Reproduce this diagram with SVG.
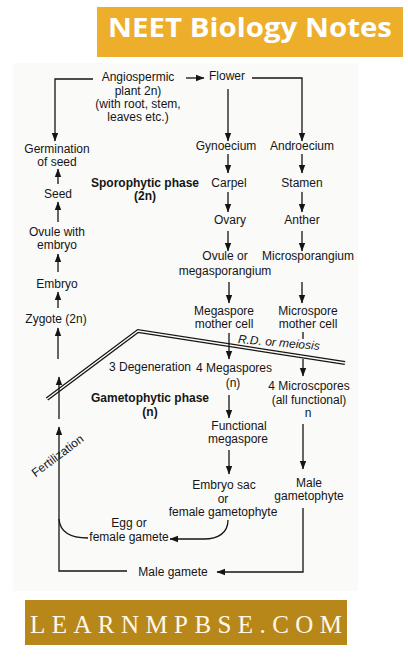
<svg xmlns="http://www.w3.org/2000/svg" width="408" height="660" viewBox="0 0 408 660">
<defs>
<style>
text{font-family:"Liberation Sans",Arial,sans-serif;font-size:12px;fill:#151515;text-anchor:middle}
.b{font-weight:bold}
.c{fill:none;stroke:#151515;stroke-width:1.3}
.a{marker-end:url(#ah)}
</style>
<marker id="ah" markerUnits="userSpaceOnUse" markerWidth="9" markerHeight="8" viewBox="0 0 9 8" refX="8" refY="4" orient="auto">
<path d="M0,0.8 L8.5,4 L0,7.2 Z" fill="#151515"/>
</marker>
</defs>
<rect width="408" height="660" fill="#ffffff"/>
<rect x="13" y="63" width="345" height="528" fill="#fafaf9"/>
<g id="header">
<rect x="97" y="7" width="306" height="50" fill="#edae2c"/>
<text x="250" y="37" style="font-family:'Open Sans','Noto Sans',sans-serif;font-weight:700;font-size:27px;fill:#ffffff" textLength="284" lengthAdjust="spacingAndGlyphs">NEET Biology Notes</text>
</g>
<g id="footer">
<rect x="25" y="600" width="322" height="45" fill="#b8871a"/>
<text x="186" y="633" style="font-family:'Liberation Serif','Times New Roman',serif;font-size:25px;fill:#fff8ea" textLength="312" lengthAdjust="spacing">LEARNMPBSE.COM</text>
</g>
<g id="divider">
<polyline points="47,399 138,331 345,363" fill="none" stroke="#151515" stroke-width="4" stroke-linejoin="miter"/>
<polyline points="47,399 138,331 345,363" fill="none" stroke="#fafaf9" stroke-width="1.4" stroke-linejoin="miter"/>
</g>
<g id="connectors">
<path class="c a" d="M93,79 H55 V141"/>
<path class="c a" d="M186,78 H204"/>
<path class="c a" d="M252,78 H302 V141"/>
<path class="c a" d="M228,89 V141"/>
<path class="c a" d="M228,154 V173"/>
<path class="c a" d="M302,154 V173"/>
<path class="c a" d="M228,192 V212"/>
<path class="c a" d="M302,192 V212"/>
<path class="c a" d="M228,231 V251"/>
<path class="c a" d="M302,231 V251"/>
<path class="c a" d="M229,282 V303"/>
<path class="c a" d="M302,282 V303"/>
<path class="c a" d="M229,333 V359"/>
<path class="c" d="M303,332 V339"/>
<path class="c a" d="M303,359 V376"/>
<path class="c a" d="M229,395 V418"/>
<path class="c a" d="M303,424 V469"/>
<path class="c a" d="M229,450 V474"/>
<path class="c a" d="M228,520 C228,533 218,539 204,539 H170"/>
<path class="c a" d="M303,508 V572 H217"/>
<path class="c a" d="M127,571 H59 V427"/>
<path class="c" d="M59,519 C60,532 70,538 88,538"/>
<path class="c a" d="M59,419 V377"/>
<path class="c a" d="M58,359 V328"/>
<path class="c a" d="M58,308 V292"/>
<path class="c a" d="M58,272 V254"/>
<path class="c a" d="M58,222 V202"/>
<path class="c a" d="M58,184 V169"/>
</g>
<g id="angiosperm"><text x="138" y="81">Angiospermic</text><text x="138" y="95">plant 2n)</text><text x="138" y="108">(with root, stem,</text><text x="138" y="121">leaves etc.)</text></g>
<g id="flower"><text x="227" y="80">Flower</text></g>
<g id="germination"><text x="57" y="153">Germination</text><text x="57" y="166">of seed</text></g>
<g id="seed"><text x="58" y="198">Seed</text></g>
<g id="ovule-embryo"><text x="57" y="236">Ovule with</text><text x="57" y="249">embryo</text></g>
<g id="embryo"><text x="57" y="288">Embryo</text></g>
<g id="zygote"><text x="56" y="323">Zygote (2n)</text></g>
<g id="sporophytic"><text class="b" x="145" y="187">Sporophytic phase</text><text class="b" x="145" y="200">(2n)</text></g>
<g id="gynoecium"><text x="226" y="150">Gynoecium</text></g>
<g id="androecium"><text x="302" y="150">Androecium</text></g>
<g id="carpel"><text x="229" y="187">Carpel</text></g>
<g id="stamen"><text x="302" y="187">Stamen</text></g>
<g id="ovary"><text x="230" y="224">Ovary</text></g>
<g id="anther"><text x="302" y="224">Anther</text></g>
<g id="ovule"><text x="225" y="260">Ovule or</text><text x="225" y="275">megasporangium</text></g>
<g id="microsporangium"><text x="308" y="260">Microsporangium</text></g>
<g id="mmc"><text x="224" y="315">Megaspore</text><text x="224" y="328">mother cell</text></g>
<g id="micmc"><text x="308" y="315">Microspore</text><text x="308" y="328">mother cell</text></g>
<g id="meiosis"><text transform="translate(278.5,346.5) rotate(5)" style="font-style:italic">R.D. or meiosis</text></g>
<g id="degeneration"><text x="150" y="371">3 Degeneration</text></g>
<g id="megaspores"><text x="234" y="372">4 Megaspores</text><text x="233" y="387">(n)</text></g>
<g id="microspores"><text x="309" y="390">4 Microscpores</text><text x="309" y="404">(all functional)</text><text x="308" y="417">n</text></g>
<g id="gametophytic"><text class="b" x="150" y="402">Gametophytic phase</text><text class="b" x="150" y="416">(n)</text></g>
<g id="functional"><text x="239" y="430">Functional</text><text x="238" y="443">megaspore</text></g>
<g id="embryosac"><text x="224" y="489">Embryo sac</text><text x="223" y="503">or</text><text x="223" y="516">female gametophyte</text></g>
<g id="male-gametophyte"><text x="309" y="487">Male</text><text x="309" y="500">gametophyte</text></g>
<g id="egg"><text x="129" y="527">Egg or</text><text x="129" y="541">female gamete</text></g>
<g id="male-gamete"><text x="173" y="576">Male gamete</text></g>
<g id="fertilization"><text transform="translate(60,459) rotate(-37)">Fertilization</text></g>
</svg>
